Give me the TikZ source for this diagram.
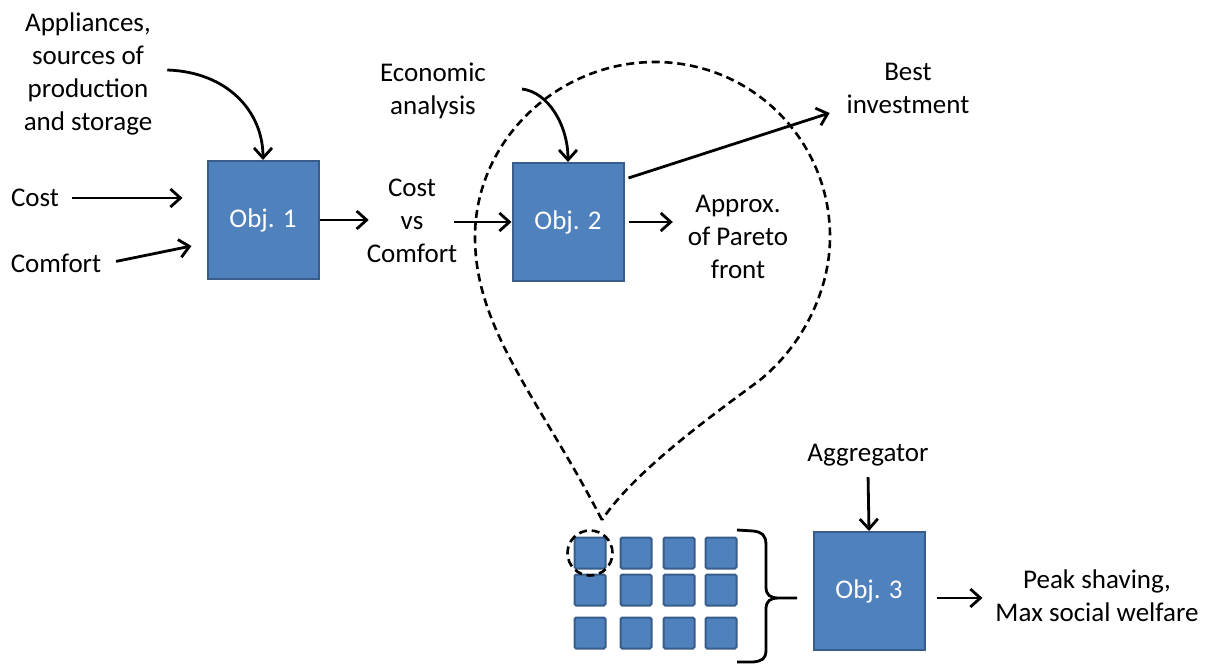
\documentclass[tikz,border=0pt]{standalone}
\usepackage{fontspec}
\setmainfont{Carlito}
\usetikzlibrary{positioning,arrows.meta}
\definecolor{objfill}{HTML}{4F81BD}
\definecolor{objline}{HTML}{385D8A}

\begin{document}
\begin{tikzpicture}[x=0.5pt,y=-0.5pt]
\tikzstyle{main}=[rectangle, fill=objfill, draw=objline, line width=1pt, minimum width=55.5pt, minimum height=59pt, text=white, font=\fontsize{13.5}{16.5}\selectfont]
\tikzstyle{cell}=[rectangle, fill=objfill, draw=objline, line width=1pt, rounded corners=0.8pt, minimum size=15.5pt]
\tikzstyle{txt}=[align=center, font=\fontsize{13.5}{16.5}\selectfont]
\tikzstyle{connect}=[-{Straight Barb[length=5pt,width=9pt]}, line width=1.4pt]
\tikzstyle{zoom}=[line width=1.3pt, dash pattern=on 4pt off 2.4pt]
\useasboundingbox (0,0) rectangle (1205,664);
  % objectives
  \node[main] (Obj1) at (263,220) {Obj. 1};
  \node[main] (Obj2) at (568,222) {Obj. 2};
  \node[main] (Obj3) at (869,591) {Obj. 3};
  % inputs and outputs
  \node[txt] (Appl) at (88,74) {Appliances,\\sources of\\production\\and storage};
  \node[txt] (Cost) at (35,198) {Cost};
  \node[txt] (Comfort) at (56,263) {Comfort};
  \node[txt] (CvC) at (412,221) {Cost\\vs\\Comfort};
  \node[txt] (Econ) at (433,91) {Economic\\analysis};
  \node[txt] (Best) at (908,88) {Best\\investment};
  \node[txt] (Pareto) at (738,237) {Approx.\\of Pareto\\front};
  \node[txt] (Aggr) at (868,455) {Aggregator};
  \node[txt] (Peak) at (1097,596) {Peak shaving,\\Max social welfare};
  % households
  \foreach \x [count=\i] in {590,636,679,721}
    \foreach \y [count=\j] in {553,590,633}
      \node[cell] (C\i\j) at (\x,\y) {};
  \node[circle, draw, zoom, minimum size=22.5pt] (Ring) at (C11) {};

  \path (Cost.east) edge [connect, shorten <=3pt, shorten >=12pt] (Cost.east -| Obj1.west)
        (Comfort.east) edge [connect, shorten <=4pt] ([xshift=-7.5pt,yshift=-13pt]Obj1.west)
        (Obj1.east) edge [connect, shorten >=-4.5pt] (Obj1.east -| CvC.west)
        ([xshift=-5pt]CvC.east |- Obj2.west) edge [connect] (Obj2.west)
        (Obj2.east) edge [connect, shorten <=2pt, shorten >=4pt] (Obj2.east -| Pareto.west)
        ([shift={(4,-44)}]Obj2.east) edge [connect] ([shift={(-10,25)}]Best.west)
        (Aggr.south) edge [connect, shorten <=2pt] (Obj3.north)
        ([shift={(11,7)}]Obj3.east) edge [connect, shorten >=3pt] ([yshift=-3.5pt]Obj3.east -| Peak.west);
  \draw[connect] ([shift={(8,-4)}]Appl.east) .. controls (228,72) and (263,112) .. (Obj1.north);
  \draw[connect] ([shift={(29,-2)}]Econ.east) .. controls (548,92) and (568,125) .. (Obj2.north);

  % zoom on one household
  \draw[zoom] (602,520) .. controls (540,400) and (475,330) .. (475,237)
    .. controls (475,140) and (558,62) .. (655,62)
    .. controls (752,62) and (830,140) .. (830,237)
    .. controls (830,290) and (803,345) .. (760,380)
    .. controls (717,412) and (635,470) .. (602,520);
  % brace
  \draw[line width=1.4pt] (737,530) -- (753,531) .. controls (762,532) and (766,535) .. (766,545)
    -- (766,587) .. controls (766,595) and (770,598) .. (779,598) -- (797,598)
    (779,598) .. controls (770,598) and (766,601) .. (766,609)
    -- (766,650) .. controls (766,659) and (762,661) .. (753,662) -- (737,662);
\end{tikzpicture}
\end{document}
